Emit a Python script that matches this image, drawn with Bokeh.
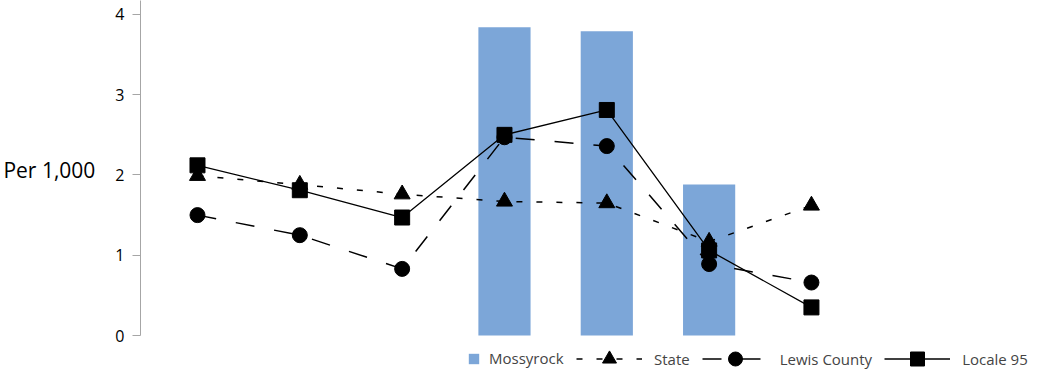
from bokeh.plotting import figure
from bokeh.models import Range1d, Legend, LegendItem, FixedTicker
from bokeh.embed import file_html
from bokeh.resources import INLINE

# ---- data ----
positions = [0, 1, 2, 3, 4, 5, 6]
mossyrock = [None, None, None, 3.84, 3.79, 1.88, None]
state = [1.99, 1.88, 1.76, 1.67, 1.65, 1.17, 1.62]
lewis_county = [1.50, 1.25, 0.83, 2.47, 2.36, 0.89, 0.66]
locale_95 = [2.12, 1.81, 1.47, 2.50, 2.81, 1.06, 0.35]
y_ticks = [0, 1, 2, 3, 4]

FONT = "Open Sans"
BAR_COLOR = "#7ca6d8"

p = figure(width=1042, height=372, output_backend="svg", toolbar_location=None,
           x_range=Range1d(-0.557, 8.258), y_range=Range1d(-0.461, 4.174),
           min_border_left=140, min_border_right=0, min_border_top=0, min_border_bottom=0)
p.outline_line_color = None
p.grid.visible = False
p.xaxis.visible = False
p.background_fill_color = "white"
p.border_fill_color = "white"

yax = p.yaxis[0]
yax.ticker = FixedTicker(ticks=y_ticks)
yax.bounds = (0, 4.174)
yax.axis_line_color = "#a6a6a6"
yax.major_tick_line_color = "#a6a6a6"
yax.major_tick_out = 8
yax.major_tick_in = 0
yax.minor_tick_line_color = None
yax.major_label_standoff = 8
yax.major_label_text_font = FONT
yax.major_label_text_font_size = "16px"
yax.major_label_text_color = "black"
yax.axis_label = "Per 1,000\n"
yax.axis_label_orientation = "horizontal"
yax.axis_label_standoff = 17
yax.axis_label_text_font = FONT
yax.axis_label_text_font_size = "21px"
yax.axis_label_text_font_style = "normal"
yax.axis_label_text_color = "black"

# bars
bx = [x for x, v in zip(positions, mossyrock) if v is not None]
bv = [v for v in mossyrock if v is not None]
bars = p.vbar(x=bx, top=bv, bottom=0, width=0.51, fill_color=BAR_COLOR, line_color=None)

# lines
st_line = p.line(positions, state, line_color="black", line_width=1.5, line_dash="6 14")
st_mark = p.scatter(positions, state, marker="triangle", size=16, fill_color="black", line_color="black")
lc_line = p.line(positions, lewis_county, line_color="black", line_width=1.5, line_dash="19 20")
lc_mark = p.scatter(positions, lewis_county, marker="circle", size=15, fill_color="black", line_color="black")
lo_line = p.line(positions, locale_95, line_color="black", line_width=1.3)
lo_mark = p.scatter(positions, locale_95, marker="square", size=15, fill_color="black", line_color="black")

# legends
leg1 = Legend(items=[LegendItem(label="Mossyrock", renderers=[bars])],
              location=(327, 4), orientation="horizontal",
              glyph_width=13, glyph_height=13, label_standoff=9,
              padding=0, margin=0, spacing=0,
              border_line_color=None, background_fill_alpha=0,
              label_text_font=FONT, label_text_font_size="15px")
leg2 = Legend(items=[LegendItem(label="State", renderers=[st_line, st_mark]),
                     LegendItem(label="Lewis County", renderers=[lc_line, lc_mark]),
                     LegendItem(label="Locale 95", renderers=[lo_line, lo_mark])],
              location=(436, -4), orientation="horizontal",
              glyph_width=66, glyph_height=35, label_standoff=12,
              padding=0, margin=0, spacing=12,
              border_line_color=None, background_fill_alpha=0,
              label_text_font=FONT, label_text_font_size="15px", label_height=35)
p.add_layout(leg1)
p.add_layout(leg2)

open("out.html", "w").write(file_html(p, INLINE))
